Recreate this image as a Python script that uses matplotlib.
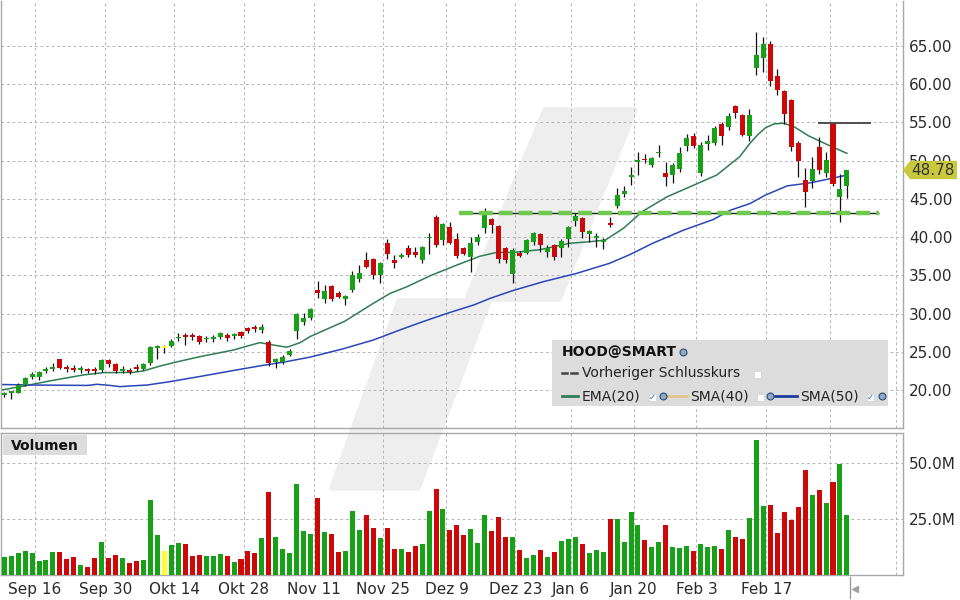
import numpy as np
import matplotlib.pyplot as plt
from matplotlib.patches import Polygon, Rectangle
from matplotlib.transforms import blended_transform_factory

plt.rcParams['font.family'] = 'DejaVu Sans'
plt.rcParams['lines.scale_dashes'] = False

# daily candles, Sep 2024 - Mar 2025
opens = [19.30, 19.56, 19.65, 20.65, 21.66, 21.66, 22.48, 22.70, 24.00, 22.96,
         22.83, 22.62, 22.70, 22.79, 22.62, 23.92, 23.40, 22.49, 22.57, 23.05,
         22.75, 23.49, 25.50, 25.50, 25.76, 26.76, 27.20, 27.20, 27.06, 26.63,
         26.71, 26.98, 27.20, 27.06, 27.54, 28.07, 28.29, 27.85, 26.32, 23.71,
         23.71, 24.58, 27.76, 28.95, 29.40, 33.08, 31.86, 33.60, 32.64, 31.90,
         33.08, 34.52, 37.00, 37.09, 35.04, 39.27, 37.00, 37.44, 38.53, 38.10,
         37.00, 39.84, 42.68, 39.62, 41.37, 39.71, 38.53, 37.35, 39.32, 41.15,
         42.33, 41.45, 38.53, 35.17, 37.88, 37.97, 39.36, 40.36, 38.10, 38.97,
         38.53, 39.71, 42.15, 42.54, 40.36, 39.84, 39.40, 41.89, 44.07, 45.64,
         47.90, 49.87, 50.22, 49.43, 50.96, 48.34, 48.12, 48.87, 51.90, 53.22,
         48.45, 52.18, 52.35, 54.79, 54.36, 57.15, 55.97, 53.22, 62.16, 63.39,
         65.26, 61.07, 59.11, 57.93, 52.35, 47.47, 47.38, 51.83, 48.34, 54.79,
         45.20, 46.73]
highs = [19.78, 19.87, 20.87, 21.74, 22.35, 22.48, 22.96, 23.49, 24.10, 23.22,
         23.31, 23.14, 22.83, 22.96, 24.05, 24.10, 23.49, 23.14, 22.83, 23.40,
         23.49, 25.76, 25.84, 25.89, 26.72, 27.41, 27.41, 27.41, 27.20, 27.06,
         27.20, 27.63, 27.41, 27.50, 27.72, 28.29, 28.50, 28.63, 26.54, 24.14,
         24.58, 25.32, 30.12, 30.03, 30.70, 34.26, 33.74, 33.74, 32.95, 32.43,
         35.61, 36.31, 38.10, 37.22, 36.79, 39.71, 37.66, 37.88, 38.97, 38.75,
         38.88, 40.50, 42.89, 41.80, 42.02, 40.50, 38.75, 40.06, 40.41, 43.77,
         42.46, 41.58, 38.75, 38.53, 38.18, 39.71, 40.63, 40.50, 38.97, 39.10,
         39.71, 41.45, 43.11, 42.68, 40.93, 40.50, 39.84, 42.67, 46.38, 46.69,
         49.21, 51.18, 50.83, 50.52, 52.05, 49.87, 49.65, 51.74, 53.50, 53.56,
         52.40, 53.35, 54.50, 55.10, 56.19, 57.28, 56.10, 56.70, 66.87, 66.13,
         65.70, 61.95, 59.24, 58.06, 52.60, 49.00, 50.43, 53.05, 51.09, 54.97,
         48.25, 48.34]
lows = [19.13, 18.78, 19.56, 20.52, 21.48, 21.31, 22.27, 22.53, 22.70, 22.36,
        22.40, 22.18, 22.27, 22.14, 22.40, 22.96, 22.18, 22.18, 22.05, 22.53,
        22.62, 23.27, 24.10, 24.88, 25.58, 26.40, 25.89, 26.54, 25.97, 26.32,
        26.32, 26.71, 26.45, 26.63, 26.76, 27.41, 27.54, 27.41, 23.14, 22.83,
        23.40, 24.45, 26.63, 28.50, 29.20, 31.99, 31.42, 31.69, 31.99, 31.12,
        32.86, 34.17, 35.92, 34.47, 34.04, 37.14, 36.00, 37.22, 37.44, 37.44,
        36.57, 37.79, 38.75, 38.97, 39.10, 37.22, 37.66, 35.48, 38.97, 40.50,
        40.50, 36.57, 36.57, 33.95, 37.35, 37.79, 38.97, 38.10, 37.35, 37.00,
        37.35, 38.75, 41.45, 39.84, 39.40, 38.75, 38.40, 41.37, 43.76, 45.20,
        46.82, 48.12, 49.65, 49.21, 50.52, 46.69, 47.04, 48.56, 51.30, 51.60,
        48.00, 51.40, 52.05, 52.05, 54.00, 55.54, 53.22, 52.60, 61.20, 61.64,
        59.77, 58.59, 54.79, 51.30, 47.90, 43.98, 46.38, 48.25, 47.90, 46.68,
        42.00, 45.07]
closes = [19.65, 19.82, 20.61, 21.61, 22.09, 22.31, 22.70, 22.96, 22.83, 22.75,
          22.62, 22.79, 22.49, 22.49, 23.92, 23.40, 22.53, 22.70, 22.31, 22.79,
          23.36, 25.67, 25.67, 25.50, 26.41, 26.98, 26.89, 26.89, 26.32, 26.85,
          26.98, 27.50, 26.76, 27.28, 27.11, 27.76, 28.02, 28.29, 23.49, 24.01,
          24.36, 25.15, 29.95, 29.45, 30.60, 32.73, 32.95, 31.90, 32.21, 32.30,
          35.00, 35.35, 36.13, 35.04, 36.66, 37.79, 36.57, 37.66, 37.66, 37.66,
          38.75, 40.06, 38.97, 41.67, 39.27, 37.53, 37.79, 39.27, 40.06, 42.89,
          41.58, 37.09, 37.00, 38.32, 37.53, 39.62, 40.50, 38.97, 38.53, 37.35,
          39.49, 41.37, 42.76, 40.71, 40.84, 40.15, 39.62, 41.58, 45.51, 46.03,
          48.12, 50.09, 50.05, 50.30, 51.18, 47.82, 49.43, 51.05, 52.95, 51.96,
          52.10, 52.60, 54.31, 53.22, 55.88, 56.28, 53.36, 55.97, 63.82, 65.26,
          60.47, 59.24, 56.10, 51.74, 50.00, 45.94, 48.90, 48.78, 50.08, 46.94,
          46.25, 48.78]
volumes = [8.2, 8.5, 9.8, 10.7, 9.8, 6.3, 6.7, 10.3, 10.3, 7.3,
           8.0, 4.5, 3.7, 7.7, 14.7, 7.7, 8.9, 7.7, 5.4, 6.3,
           6.7, 33.5, 17.9, 10.7, 13.4, 14.3, 13.8, 8.5, 8.9, 8.5,
           8.5, 9.4, 8.5, 5.8, 7.2, 10.7, 9.8, 16.5, 37.0, 17.0,
           11.6, 9.8, 40.6, 19.6, 18.3, 34.4, 19.2, 18.3, 10.3, 10.7,
           28.6, 20.1, 26.8, 21.0, 16.5, 21.0, 11.6, 11.6, 10.3, 12.9,
           13.8, 28.6, 38.4, 29.5, 20.1, 22.3, 17.9, 20.5, 14.3, 26.8,
           19.6, 25.9, 17.0, 17.0, 11.2, 7.6, 8.9, 11.2, 8.0, 10.3,
           15.2, 16.1, 17.0, 13.8, 9.8, 11.2, 10.3, 25.0, 25.0, 14.7,
           28.1, 22.3, 15.6, 12.5, 14.7, 22.3, 12.5, 12.1, 12.9, 10.7,
           13.8, 12.5, 12.9, 11.6, 20.1, 17.0, 16.1, 25.4, 60.3, 30.8,
           31.2, 18.7, 28.1, 24.6, 30.3, 46.9, 35.7, 37.9, 32.1, 41.5,
           49.7, 26.8]

# indicator lines read at sample points (bar index, value)
ema_x = [-0.46, 2.7, 6.6, 11.3, 14.2, 18.5, 20.0, 22.4, 24.5, 28.1, 32.9, 36.7,
         38.2, 40.6, 42.5, 43.9, 48.9, 53.0, 55.4, 57.8, 61.3, 65.0, 68.3, 70.7,
         73.1, 76.9, 81.2, 84.1, 86.3, 88.9, 91.7, 95.2, 97.5, 102.3, 105.6, 107.1,
         108.2, 109.3, 110.5, 111.8, 113.3, 115.5, 118.3, 121.0]
ema_v = [19.99, 20.5, 21.2, 21.96, 22.27, 22.3, 22.5, 23.14, 23.62, 24.36, 25.23, 26.2,
         25.95, 25.6, 26.2, 26.98, 29.0, 31.34, 32.64, 33.5, 35.0, 36.35, 37.5, 38.0,
         38.0, 38.35, 39.2, 39.4, 39.62, 41.15, 43.4, 45.29, 46.2, 48.12, 50.52, 52.3,
         53.4, 54.3, 54.8, 54.9, 54.5, 53.25, 52.05, 50.96]
sma_x = [-0.46, 4.0, 12.0, 13.3, 15.2, 16.6, 18.5, 20.5, 23.5, 28.3, 33.2, 37.0,
         40.5, 43.9, 48.5, 53.0, 56.8, 60.1, 63.6, 67.4, 69.8, 73.0, 77.4, 82.2,
         86.9, 89.8, 93.1, 97.5, 101.8, 104.2, 107.1, 109.3, 112.4, 115.7, 118.1, 121.0]
sma_v = [20.72, 20.65, 20.6, 20.75, 20.6, 20.44, 20.55, 20.65, 21.05, 21.8, 22.6, 23.2,
         23.71, 24.3, 25.35, 26.54, 27.85, 28.94, 30.03, 31.12, 32.0, 33.0, 34.17, 35.26,
         36.57, 37.7, 39.19, 40.9, 42.3, 43.5, 44.4, 45.5, 46.7, 47.1, 47.55, 48.12]

# drawn level lines: (value, from bar, to bar)
support = (43.17, 65.3, 125.6)
resist = (54.97, 116.8, 124.4)

tick_pos = [4.42, 14.5, 24.4, 34.4, 44.5, 54.4, 63.5, 73.4, 81.4, 90.4, 99.4, 109.4, 118.5, 128.0]
tick_labels = ['Sep 16', 'Sep 30', 'Okt 14', 'Okt 28', 'Nov 11', 'Nov 25', 'Dez 9',
               'Dez 23', 'Jan 6', 'Jan 20', 'Feb 3', 'Feb 17', '', '']
price_ticks = [20, 25, 30, 35, 40, 45, 50, 55, 60, 65]
vol_ticks = [25, 50]

GREEN = '#16a116'
RED = '#cc0808'
YEL = '#ffff33'
GRID = '#b4b4b4'
FRAME = '#a8a8a8'
TXT = '#2a2a2a'

W, H = 960, 600
fig = plt.figure(figsize=(9.6, 6), dpi=100)
fig.patch.set_facecolor('white')

def rect(l, t, r, b):
    return [l / W, 1 - b / H, (r - l) / W, (b - t) / H]

# watermark behind everything
bg = fig.add_axes([0, 0, 1, 1], zorder=0)
bg.set_xlim(0, W); bg.set_ylim(H, 0); bg.axis('off')
for poly in [[(545, 110), (635, 110), (559, 299), (467, 299)],
             [(399, 301), (489, 301), (418, 488), (332, 488)]]:
    bg.add_patch(Polygon(poly, closed=True, fc='#eeeeee', ec='#eeeeee', lw=4, joinstyle='round'))

ax = fig.add_axes(rect(1, 1, 903, 428), zorder=1)
axv = fig.add_axes(rect(1, 433, 903, 575), zorder=1)

idx = np.arange(len(closes))
o = np.array(opens); h = np.array(highs); l = np.array(lows); c = np.array(closes)
cols = np.where(c > o, GREEN, np.where(c < o, RED, YEL))

for a in (ax, axv):
    a.set_facecolor('none')
    a.set_xlim(-0.46, 129.05)
    a.set_xticks(tick_pos)
    a.grid(True, color=GRID, linestyle=(0, (2, 2)), linewidth=0.7)
    a.set_axisbelow(True)
    for s in a.spines.values():
        s.set_color(FRAME)
        s.set_linewidth(1)
    a.yaxis.tick_right()
    a.tick_params(length=0, labelsize=11, labelcolor=TXT, pad=4.5)

ax.spines['top'].set_visible(False)
ax.set_ylim(15.03, 70.89)
ax.set_yticks(price_ticks)
ax.set_yticklabels(['%.2f' % v for v in price_ticks])
ax.tick_params(labelbottom=False)

# candles
ax.vlines(idx, l, h, color='#111111', lw=0.9, zorder=3)
body = np.maximum(np.abs(c - o), 0.2)
ax.bar(idx, body, bottom=np.minimum(o, c), width=0.72, color=cols, linewidth=0, zorder=4)

ax.plot(ema_x, ema_v, color='#2f7d55', lw=1.1, zorder=2)
ax.plot(sma_x, sma_v, color='#2946b8', lw=1.1, zorder=2)

ax.hlines(support[0], support[1], support[2], color='#222222', lw=1, zorder=5)
ax.plot(support[1:], [support[0]] * 2, color='#6fc94f', lw=3.2, dashes=(10, 4.3),
        solid_capstyle='butt', dash_capstyle='butt', zorder=6)
ax.hlines(resist[0], resist[1], resist[2], color='#333333', lw=1.2, zorder=5)

# last price pointer
tr = blended_transform_factory(ax.transAxes, ax.transData)
last = closes[-1]
dx = 1 / 902
hh = 1.2
ax.add_patch(Polygon([(1.0, last), (1 + 7 * dx, last + hh), (1 + 54 * dx, last + hh),
                      (1 + 54 * dx, last - hh), (1 + 7 * dx, last - hh)],
                     closed=True, transform=tr, fc='#c9c93e', ec='none', clip_on=False, zorder=7))
ax.text(1 + 30 * dx, last, '%.2f' % last, transform=tr, ha='center', va='center',
        fontsize=11, color='#333333', zorder=8)

# volume
axv.set_ylim(0, 63.4)
axv.bar(idx, volumes, width=0.72, color=cols, linewidth=0, zorder=3)
axv.set_yticks(vol_ticks)
axv.set_yticklabels(['%.1fM' % v for v in vol_ticks])
axv.set_xticklabels(tick_labels)
axv.tick_params(axis='x', pad=5)
axv.plot([len(closes) - 0.55] * 2, [-0.015, -0.165], transform=blended_transform_factory(axv.transData, axv.transAxes),
         color='#9a9a9a', lw=1, clip_on=False)
axv.plot([len(closes) + 0.15], [-0.1], transform=blended_transform_factory(axv.transData, axv.transAxes),
         marker='<', ms=4, color='#a0a0a0', clip_on=False)

# overlay: legend box and panel label
ov = fig.add_axes([0, 0, 1, 1], zorder=5)
ov.set_xlim(0, W); ov.set_ylim(H, 0); ov.axis('off')
ov.add_patch(Rectangle((552, 340), 336, 66, fc='#dcdcdc', ec='none'))
ov.text(562, 352, 'HOOD@SMART', fontsize=10, fontweight='bold', color='#111111', va='center')
ov.plot([562, 567], [373, 373], color='#444444', lw=1.8)
ov.plot([571, 577], [373, 373], color='#444444', lw=1.8)
ov.text(582, 373, 'Vorheriger Schlusskurs', fontsize=10, color='#222222', va='center')
ov.plot([562, 578], [396, 396], color='#2f7d55', lw=2)
ov.text(582, 396, 'EMA(20)', fontsize=10, color='#222222', va='center')
ov.plot([668, 687], [396, 396], color='#e3c48e', lw=2)
ov.text(690, 396, 'SMA(40)', fontsize=10, color='#222222', va='center')
ov.plot([775, 797], [396, 396], color='#1f3c9c', lw=2)
ov.text(800, 396, 'SMA(50)', fontsize=10, color='#222222', va='center')
for x, y in [(757, 374), (760, 397)]:
    ov.add_patch(Rectangle((x - 3.5, y - 3.5), 7, 7, fc='white', ec='#cfcfcf', lw=0.5))
for x, y in [(652, 397), (870, 397)]:
    ov.add_patch(Rectangle((x - 3.5, y - 3.5), 7, 7, fc='white', ec='#cfcfcf', lw=0.5))
    ov.text(x, y + 0.5, '\u2713', fontsize=6, color='#1f5fc4', ha='center', va='center', fontweight='bold')
for x, y in [(683, 352), (663, 396), (770, 396), (882, 396)]:
    ov.plot([x], [y], marker='o', ms=5, mfc='#8fa9c8', mec='#2d4d70', mew=0.8)

ov.add_patch(Rectangle((3, 435), 84, 20, fc='#dcdcdc', ec='none'))
ov.text(11, 445.5, 'Volumen', fontsize=10, fontweight='bold', color='#111111', va='center')

fig.savefig('out.png', dpi=100)
